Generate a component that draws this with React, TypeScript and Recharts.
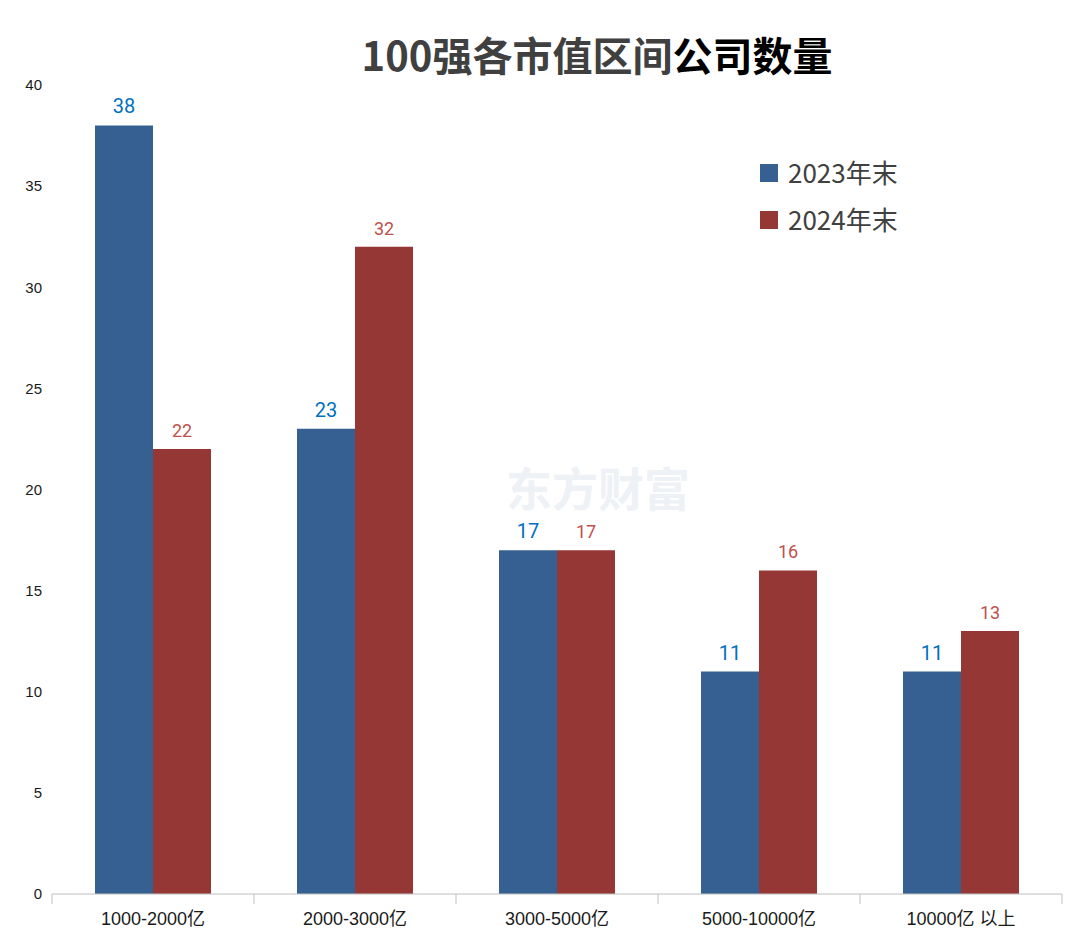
import React from 'react'
import { BarChart, Bar, XAxis, YAxis, LabelList } from 'recharts'

const categories = ['1000-2000亿', '2000-3000亿', '3000-5000亿', '5000-10000亿', '10000亿 以上']
const values2023 = [38, 23, 17, 11, 11]
const values2024 = [22, 32, 17, 16, 13]
const yTicks = [0, 5, 10, 15, 20, 25, 30, 35, 40]

const data = categories.map((name, i) => ({
  name,
  y2023: values2023[i],
  y2024: values2024[i],
}))

const BLUE = '#366092'
const RED = '#953735'
const FONT = '"Noto Sans CJK SC", "Liberation Sans", Arial, sans-serif'
const NUM_FONT = '"Liberation Sans", Arial, "Noto Sans CJK SC", sans-serif'
const LABEL_FONT = 'Roboto, "Liberation Sans", Arial, sans-serif'
const BAND = 202

const XTick = (props: any) => {
  const { x, y, payload } = props
  return (
    <g>
      <line x1={x - BAND / 2} y1={y - 8} x2={x - BAND / 2} y2={y + 2} stroke="#bfbfbf" />
      {payload.index === categories.length - 1 && (
        <line x1={x + BAND / 2} y1={y - 8} x2={x + BAND / 2} y2={y + 2} stroke="#bfbfbf" />
      )}
      <text x={x} y={y + 23} textAnchor="middle" fontSize={18} fill="#1a1a1a" fontFamily={NUM_FONT}>
        {payload.value}
      </text>
    </g>
  )
}

const App = () => {
  return (
    <div style={{ position: 'absolute', left: 0, top: 0, width: 1080, height: 938, background: '#fff' }}>
      <svg width={1080} height={938} style={{ position: 'absolute', left: 0, top: 0 }}>
        <text x={597} y={71} textAnchor="middle" fontSize={40} fontWeight="bold" fontFamily={FONT}>
          <tspan fill="#404040">100强各市值区间</tspan>
          <tspan fill="#000">公司数量</tspan>
        </text>
        <text x={598} y={506} textAnchor="middle" fontSize={46} fontWeight="bold" fill="#eef1f5" fontFamily={FONT}>
          东方财富
        </text>
        <rect x={760} y={164} width={18} height={18} fill={BLUE} />
        <text x={788} y={183} fontSize={26} fill="#404040" fontFamily={FONT}>2023年末</text>
        <rect x={760} y={211} width={18} height={18} fill={RED} />
        <text x={788} y={230} fontSize={26} fill="#404040" fontFamily={FONT}>2024年末</text>
      </svg>
      <div style={{ position: 'absolute', left: 0, top: 0 }}>
        <BarChart
          width={1080}
          height={938}
          data={data}
          margin={{ top: 85, right: 18, bottom: 0, left: 0 }}
          barCategoryGap={43}
          barGap={0}
        >
          <XAxis
            dataKey="name"
            height={44}
            axisLine={{ stroke: '#bfbfbf' }}
            tickLine={false}
            tick={<XTick />}
            interval={0}
          />
          <YAxis
            width={52}
            domain={[0, 40]}
            ticks={yTicks}
            axisLine={false}
            tickLine={false}
            tick={{ fontSize: 15, fill: '#1a1a1a', fontFamily: NUM_FONT }}
            tickMargin={4}
          />
          <Bar dataKey="y2023" fill={BLUE} isAnimationActive={false}>
            <LabelList dataKey="y2023" position="top" offset={12} fill="#0070c0" fontSize={20} fontFamily={LABEL_FONT} />
          </Bar>
          <Bar dataKey="y2024" fill={RED} isAnimationActive={false}>
            <LabelList dataKey="y2024" position="top" offset={12} fill="#c0504d" fontSize={18} fontFamily={LABEL_FONT} />
          </Bar>
        </BarChart>
      </div>
    </div>
  )
}

export default App
